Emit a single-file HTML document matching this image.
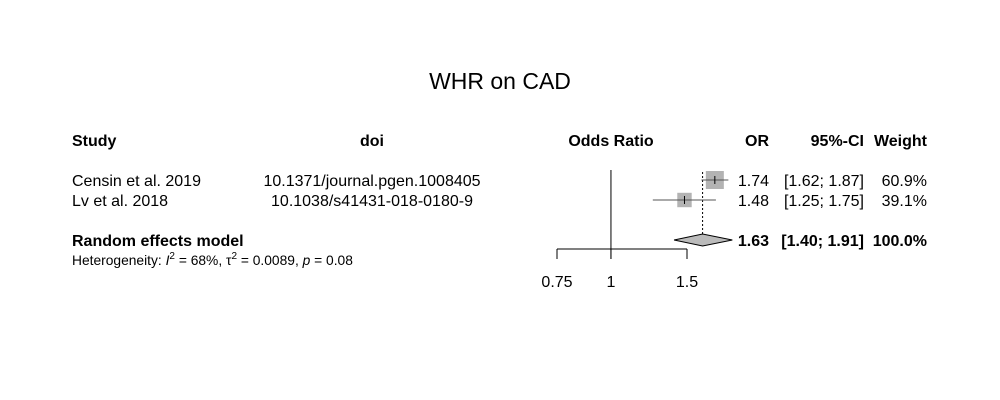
<!DOCTYPE html>
<html><head><meta charset="utf-8"><style>
body{margin:0;background:#fff}
svg{display:block;font-family:"Liberation Sans",Arial,sans-serif}
</style></head><body>
<svg id="c" width="1000" height="400">
<text x="500" y="89" font-size="23" text-anchor="middle">WHR on CAD</text>
<g font-size="16" font-weight="bold">
<text x="72" y="146">Study</text>
<text x="372" y="146" text-anchor="middle">doi</text>
<text x="611" y="146" text-anchor="middle">Odds Ratio</text>
<text x="769" y="146" text-anchor="end">OR</text>
<text x="864" y="146" text-anchor="end">95%-CI</text>
<text x="927" y="146" text-anchor="end">Weight</text>
</g>
<text x="72" y="246" font-size="16" font-weight="bold">Random effects model</text>
<text x="72" y="265" font-size="13.8">Heterogeneity: <tspan font-style="italic">I</tspan><tspan dy="-6" font-size="10">2</tspan><tspan dy="6"> = 68%, τ</tspan><tspan dy="-6" font-size="10">2</tspan><tspan dy="6"> = 0.0089, </tspan><tspan font-style="italic">p</tspan> = 0.08</text>
</svg>
<script>
const studies=["Censin et al. 2019","Lv et al. 2018"];
const dois=["10.1371/journal.pgen.1008405","10.1038/s41431-018-0180-9"];
const orVals=[1.74,1.48];
const lower=[1.62,1.25];
const upper=[1.87,1.75];
const weights=[60.9,39.1];
const pooled=[1.63,1.40,1.91];
const ticks=[0.75,1,1.5];
const NS="http://www.w3.org/2000/svg";
const svg=document.getElementById('c');
const x0=557,x1=687;
function X(v){return x0+(Math.log(v)-Math.log(0.75))/(Math.log(1.5)-Math.log(0.75))*(x1-x0);}
function mk(t,a,txt){const e=document.createElementNS(NS,t);for(const k in a)e.setAttribute(k,a[k]);if(txt!=null)e.textContent=txt;svg.appendChild(e);return e;}
const f=v=>v.toFixed(2);
let e=mk('line',{x1:X(1),x2:X(1),y1:170,y2:259,stroke:'#000'});


e=mk('line',{x1:X(pooled[0]),x2:X(pooled[0]),y1:172,y2:235,stroke:'#000','stroke-dasharray':'2,2'});


const maxW=Math.max(...weights);
studies.forEach((s,i)=>{
  const y=180+i*20;
  e=mk('text',{x:72,y:y+6,'font-size':16},s);
  
  
  e=mk('text',{x:372,y:y+6,'font-size':16,'text-anchor':'middle'},dois[i]);
  
  
  const sz=18*Math.sqrt(weights[i]/maxW);
  e=mk('rect',{x:X(orVals[i])-sz/2,y:y-sz/2,width:sz,height:sz,fill:'#b3b3b3'});
  
  
  e=mk('line',{x1:X(lower[i]),x2:X(upper[i]),y1:y,y2:y,stroke:'#555'});
  
  
  e=mk('line',{x1:X(orVals[i]),x2:X(orVals[i]),y1:y-4,y2:y+4,stroke:'#000'});
  
  
  e=mk('text',{x:769,y:y+6,'font-size':16,'text-anchor':'end'},f(orVals[i]));
  
  
  e=mk('text',{x:864,y:y+6,'font-size':16,'text-anchor':'end'},'['+f(lower[i])+'; '+f(upper[i])+']');
  
  
  e=mk('text',{x:927,y:y+6,'font-size':16,'text-anchor':'end'},weights[i].toFixed(1)+'%');
  
  
});
const yd=240;
e=mk('polygon',{points:`${X(pooled[1])},${yd} ${X(pooled[0])},${yd-6} ${X(pooled[2])},${yd} ${X(pooled[0])},${yd+6}`,fill:'#bbb',stroke:'#000'});


e=mk('text',{x:769,y:yd+6,'font-size':16,'font-weight':'bold','text-anchor':'end'},f(pooled[0]));


e=mk('text',{x:864,y:yd+6,'font-size':16,'font-weight':'bold','text-anchor':'end'},'['+f(pooled[1])+'; '+f(pooled[2])+']');


e=mk('text',{x:927,y:yd+6,'font-size':16,'font-weight':'bold','text-anchor':'end'},'100.0%');


e=mk('line',{x1:X(ticks[0]),x2:X(ticks[ticks.length-1]),y1:249,y2:249,stroke:'#000'});


ticks.forEach(t=>{
  e=mk('line',{x1:X(t),x2:X(t),y1:249,y2:259,stroke:'#000'});
  
  
  e=mk('text',{x:X(t),y:287,'font-size':16,'text-anchor':'middle'},String(t));
  
  
});
</script>
</body></html>
